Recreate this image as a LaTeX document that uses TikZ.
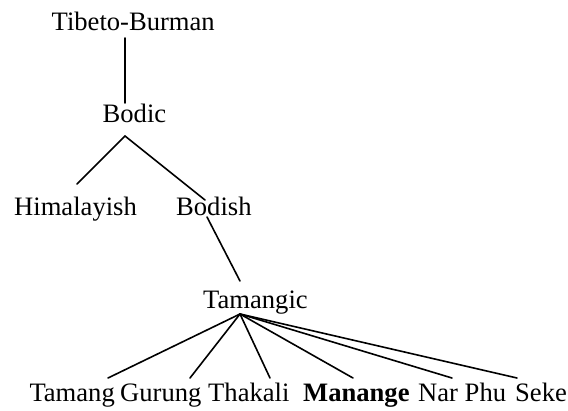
\documentclass[tikz,border=0pt]{standalone}
\usepackage{fontspec}
\setmainfont{Liberation Serif}
\begin{document}
\begin{tikzpicture}[x=1pt,y=-1pt,
  lab/.style={anchor=base west,inner sep=0pt,font=\fontsize{26.6}{32}\selectfont},
  branch/.style={line width=1.6pt,line cap=round}]
\useasboundingbox (0,0) rectangle (568,410);
% labels
\node[lab] (tb) at (51.5,30) {Tibeto-Burman};
\node[lab] (bodic) at (102.5,122) {Bodic};
\node[lab] (him) at (14,215) {Himalayish};
\node[lab] (bodish) at (176,215) {Bodish};
\node[lab] (tamangic) at (203,308) {Tamangic};
\node[lab] (tamang) at (29.3,401) {Tamang};
\node[lab] (gurung) at (120,401) {Gurung};
\node[lab] (thakali) at (208,401) {Thakali};
\node[lab] (manange) at (303,401) {\bfseries Manange};
\node[lab] (narphu) at (418,401) {Nar Phu};
\node[lab] (seke) at (515,401) {Seke};
% connector ends
\coordinate (tb-s) at (125,38);
\coordinate (bodic-n) at (125,103);
\coordinate (bodic-s) at (125,136);
\coordinate (him-n) at (77,184);
\coordinate (bodish-n) at (205,200);
\coordinate (bodish-s) at (207,217);
\coordinate (tamangic-n) at (240,281);
\coordinate (tamangic-s) at (240,314);
\coordinate (tamang-n) at (108,378);
\coordinate (gurung-n) at (190,378);
\coordinate (thakali-n) at (270,378);
\coordinate (manange-n) at (353,378);
\coordinate (narphu-n) at (452,378);
\coordinate (seke-n) at (517,378);
% connectors
\draw[branch] (tb-s) -- (bodic-n);
\draw[branch] (bodic-s) -- (him-n);
\draw[branch] (bodic-s) -- (bodish-n);
\draw[branch] (bodish-s) -- (tamangic-n);
\foreach \t in {tamang,gurung,thakali,manange,narphu,seke}
  \draw[branch] (tamangic-s) -- (\t-n);
\end{tikzpicture}
\end{document}
